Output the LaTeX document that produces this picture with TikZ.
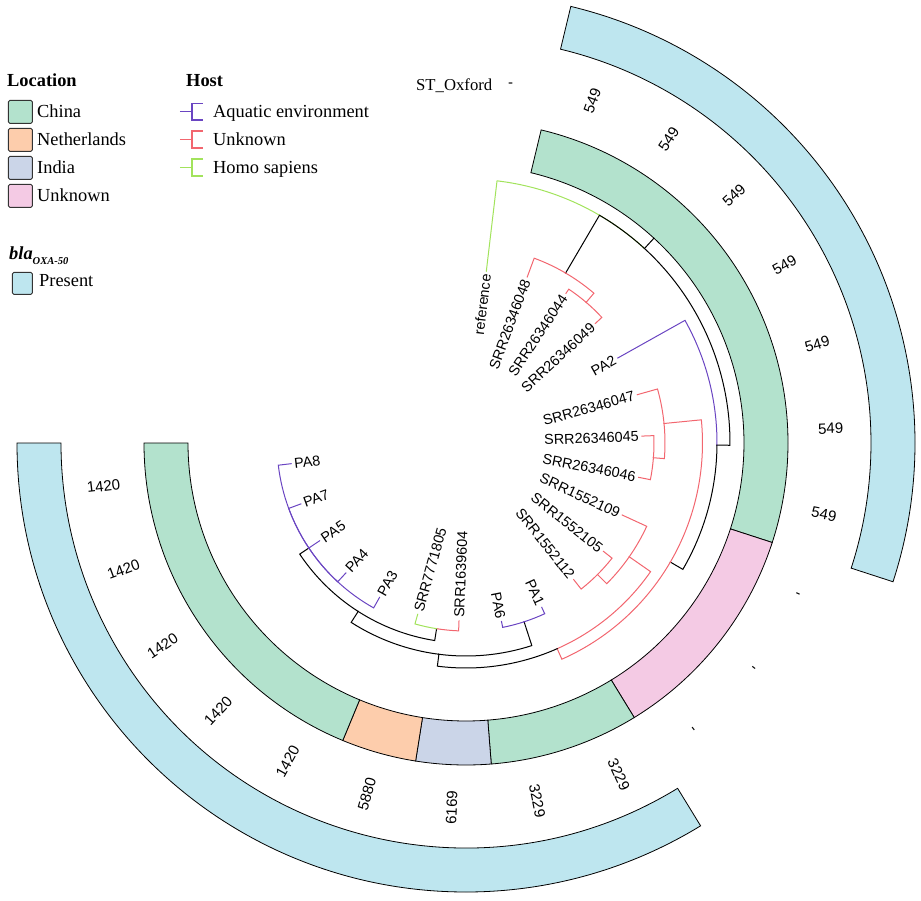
\documentclass[tikz,border=0pt]{standalone}
\usepackage{fontspec}
\setmainfont{Liberation Serif}
\setsansfont{Liberation Sans}
\definecolor{china}{HTML}{B3E2CD}
\definecolor{neth}{HTML}{FDCDAC}
\definecolor{india}{HTML}{CBD5E8}
\definecolor{unk}{HTML}{F4CAE4}
\definecolor{pres}{HTML}{BEE6EF}
\definecolor{aqua}{HTML}{6A45C2}
\definecolor{hred}{HTML}{F2666F}
\definecolor{homo}{HTML}{A2E35C}
\tikzset{
  br/.style={line width=1pt, line cap=rect},
  tiplab/.style={font=\sffamily\fontsize{14.4}{14.4}\selectfont, inner sep=0pt},
  stlab/.style={font=\sffamily\fontsize{15}{15}\selectfont, inner sep=0pt, anchor=center},
  ringseg/.style={draw=black, line width=0.8pt},
  leg/.style={font=\fontsize{18.4}{20}\selectfont, inner sep=0pt, anchor=base west},
  legtitle/.style={font=\bfseries\fontsize{18.4}{20}\selectfont, inner sep=0pt, anchor=base west},
  legbox/.style={draw=black!80, line width=0.8pt, rounded corners=1.5pt, inner sep=0pt,
    minimum width=24pt, minimum height=23pt, anchor=north west},
  hostglyph/.style={line width=1.6pt},
}
% branch: color, parent r, parent angle, child r, child angle
\newcommand{\brch}[5]{\draw[br,#1] (#3:#2) arc[start angle=#3, end angle=#5, radius=#2] -- (#5:#4);}
% ring sector: colour, angle1, angle2, r in, r out
\newcommand{\sector}[5]{\filldraw[ringseg, fill=#1] (#2:#4) arc[start angle=#2, end angle=#3, radius=#4] -- (#3:#5) arc[start angle=#3, end angle=#2, radius=#5] -- cycle;}
\begin{document}
\begin{tikzpicture}[x=1pt,y=1pt]
\useasboundingbox (-466,-457) rectangle (455,443);

% ---------- rings ----------
\sector{china}{76.5}{-18}{278}{322}
\sector{unk}{-18}{-58.5}{278}{322}
\sector{china}{-58.5}{-85.5}{278}{322}
\sector{india}{-85.5}{-99}{278}{322}
\sector{neth}{-99}{-112.5}{278}{322}
\sector{china}{-112.5}{-180}{278}{322}
\sector{pres}{76.5}{-18}{405}{449}
\sector{pres}{-58.5}{-180}{405}{449}

% ---------- tree ----------
\coordinate (Y) at (47.46:264);
\draw[br] (Y) -- (47.46:278);
\brch{homo}{264}{47.46}{173}{83.25}
\brch{black}{264}{47.46}{197}{59.625}
\brch{hred}{197}{59.625}{177}{69.75}
\brch{hred}{197}{59.625}{185}{49.5}
\brch{hred}{185}{49.5}{180}{56.25}
\brch{hred}{185}{49.5}{176}{42.75}
\brch{black}{264}{47.46}{251}{-0.492}
\brch{aqua}{251}{-0.492}{174}{29.25}
\brch{black}{251}{-0.492}{236.5}{-30.23}
\brch{hred}{236.5}{-30.23}{199}{5.625}
\brch{hred}{199}{5.625}{178}{15.75}
\brch{hred}{199}{5.625}{188}{-4.5}
\brch{hred}{188}{-4.5}{176}{2.25}
\brch{hred}{188}{-4.5}{176}{-11.25}
\brch{hred}{236.5}{-30.23}{225}{-66.09}
\brch{hred}{225}{-66.09}{199}{-34.875}
\brch{hred}{199}{-34.875}{172}{-24.75}
\brch{hred}{199}{-34.875}{186}{-45}
\brch{hred}{186}{-45}{175}{-38.25}
\brch{hred}{186}{-45}{174}{-51.75}
\brch{black}{225}{-66.09}{213}{-97.31}
\brch{black}{213}{-97.31}{188}{-72}
\brch{aqua}{188}{-72}{181}{-65.25}
\brch{aqua}{188}{-72}{182}{-78.75}
\brch{black}{213}{-97.31}{200}{-122.625}
\brch{black}{200}{-122.625}{188}{-99}
\brch{hred}{188}{-99}{178}{-92.25}
\brch{homo}{188}{-99}{178}{-105.75}
\brch{black}{200}{-122.625}{189}{-146.25}
\brch{aqua}{189}{-146.25}{177}{-119.25}
\brch{aqua}{189}{-146.25}{177}{-132.75}
\brch{aqua}{189}{-146.25}{176}{-146.25}
\brch{aqua}{189}{-146.25}{176}{-159.75}
\brch{aqua}{189}{-146.25}{176}{-173.25}

% ---------- tip labels ----------
\node[tiplab, anchor=east, rotate=83.25] (t0) at (83.25:170) {reference};
\node[tiplab, anchor=east, rotate=69.75] (t1) at (69.75:174) {SRR26346048};
\node[tiplab, anchor=east, rotate=56.25] (t2) at (56.25:177) {SRR26346044};
\node[tiplab, anchor=east, rotate=42.75] (t3) at (42.75:173) {SRR26346049};
\node[tiplab, anchor=east, rotate=29.25] (t4) at (29.25:171) {PA2};
\node[tiplab, anchor=east, rotate=15.75] (t5) at (15.75:175) {SRR26346047};
\node[tiplab, anchor=east, rotate=2.25] (t6) at (2.25:173) {SRR26346045};
\node[tiplab, anchor=east, rotate=-11.25] (t7) at (-11.25:173) {SRR26346046};
\node[tiplab, anchor=east, rotate=-24.75] (t8) at (-24.75:169) {SRR1552109};
\node[tiplab, anchor=east, rotate=-38.25] (t9) at (-38.25:172) {SRR1552105};
\node[tiplab, anchor=east, rotate=-51.75] (t10) at (-51.75:171) {SRR1552112};
\node[tiplab, anchor=east, rotate=-65.25] (t11) at (-65.25:178) {PA1};
\node[tiplab, anchor=east, rotate=-78.75] (t12) at (-78.75:179) {PA6};
\node[tiplab, anchor=west, rotate=87.75] (t13) at (-92.25:175) {SRR1639604};
\node[tiplab, anchor=west, rotate=74.25] (t14) at (-105.75:175) {SRR7771805};
\node[tiplab, anchor=west, rotate=60.75] (t15) at (-119.25:174) {PA3};
\node[tiplab, anchor=west, rotate=47.25] (t16) at (-132.75:174) {PA4};
\node[tiplab, anchor=west, rotate=33.75] (t17) at (-146.25:173) {PA5};
\node[tiplab, anchor=west, rotate=20.25] (t18) at (-159.75:173) {PA7};
\node[tiplab, anchor=west, rotate=6.75] (t19) at (-173.25:173) {PA8};

% ---------- ST labels ----------
\node[stlab, rotate=69.75] (s1) at (69.75:365) {549};
\node[stlab, rotate=56.25] (s2) at (56.25:365) {549};
\node[stlab, rotate=42.75] (s3) at (42.75:365) {549};
\node[stlab, rotate=29.25] (s4) at (29.25:365) {549};
\node[stlab, rotate=15.75] (s5) at (15.75:365) {549};
\node[stlab, rotate=2.25] (s6) at (2.25:365) {549};
\node[stlab, rotate=-11.25] (s7) at (-11.25:365) {549};
\node[stlab, rotate=-24.75] (s8) at (-24.75:365) {-};
\node[stlab, rotate=-38.25] (s9) at (-38.25:365) {-};
\node[stlab, rotate=-51.75] (s10) at (-51.75:365) {-};
\node[stlab, rotate=-65.25] (s11) at (-65.25:365) {3229};
\node[stlab, rotate=-78.75] (s12) at (-78.75:365) {3229};
\node[stlab, rotate=87.75] (s13) at (-92.25:365) {6169};
\node[stlab, rotate=74.25] (s14) at (-105.75:365) {5880};
\node[stlab, rotate=60.75] (s15) at (-119.25:365) {1420};
\node[stlab, rotate=47.25] (s16) at (-132.75:365) {1420};
\node[stlab, rotate=33.75] (s17) at (-146.25:365) {1420};
\node[stlab, rotate=20.25] (s18) at (-159.75:365) {1420};
\node[stlab, rotate=6.75] (s19) at (-173.25:365) {1420};

% ---------- legend (pixel coordinates) ----------
\begin{scope}[shift={(-466,443)}, yscale=-1]
\node[font=\fontsize{16.7}{18}\selectfont, inner sep=0pt, anchor=base west] (sthead) at (416,91) {ST\_Oxford};
\node[stlab] (s0) at (510.5,85.5) {-};

\node[legtitle] (locT) at (7,87) {Location};
\node[legbox, fill=china] (bChina) at (8,100) {};
\node[legbox, fill=neth] (bNeth) at (8,128) {};
\node[legbox, fill=india] (bIndia) at (8,156) {};
\node[legbox, fill=unk] (bUnk) at (8,184) {};
\node[leg] (lChina) at (37,117.5) {China};
\node[leg] (lNeth) at (37,145.3) {Netherlands};
\node[leg] (lIndia) at (37,173.3) {India};
\node[leg] (lUnk) at (37,201.3) {Unknown};

\node[legtitle] (hostT) at (186,87) {Host};
\draw[hostglyph, draw=aqua] (180,111.7) -- (192,111.7) (203,103.5) -- (192,103.5) -- (192,120) -- (203,120);
\draw[hostglyph, draw=hred] (180,139.5) -- (192,139.5) (203,131.3) -- (192,131.3) -- (192,147.8) -- (203,147.8);
\draw[hostglyph, draw=homo] (180,167.5) -- (192,167.5) (203,159.3) -- (192,159.3) -- (192,175.8) -- (203,175.8);
\node[leg] (hAqua) at (213,117.5) {Aquatic environment};
\node[leg] (hUnk) at (213,145.3) {Unknown};
\node[leg] (hHomo) at (213,173.3) {Homo sapiens};

\node[legtitle, font=\bfseries\itshape\fontsize{18.4}{20}\selectfont] (blaT) at (9,260)
  {bla\raisebox{-5pt}{\fontsize{10.5}{11}\selectfont OXA-50}};
\node[legbox, fill=pres, minimum width=20pt, minimum height=22pt] (bPres) at (12,272) {};
\node[leg] (lPres) at (39,287) {Present};
\end{scope}
\end{tikzpicture}
\end{document}
